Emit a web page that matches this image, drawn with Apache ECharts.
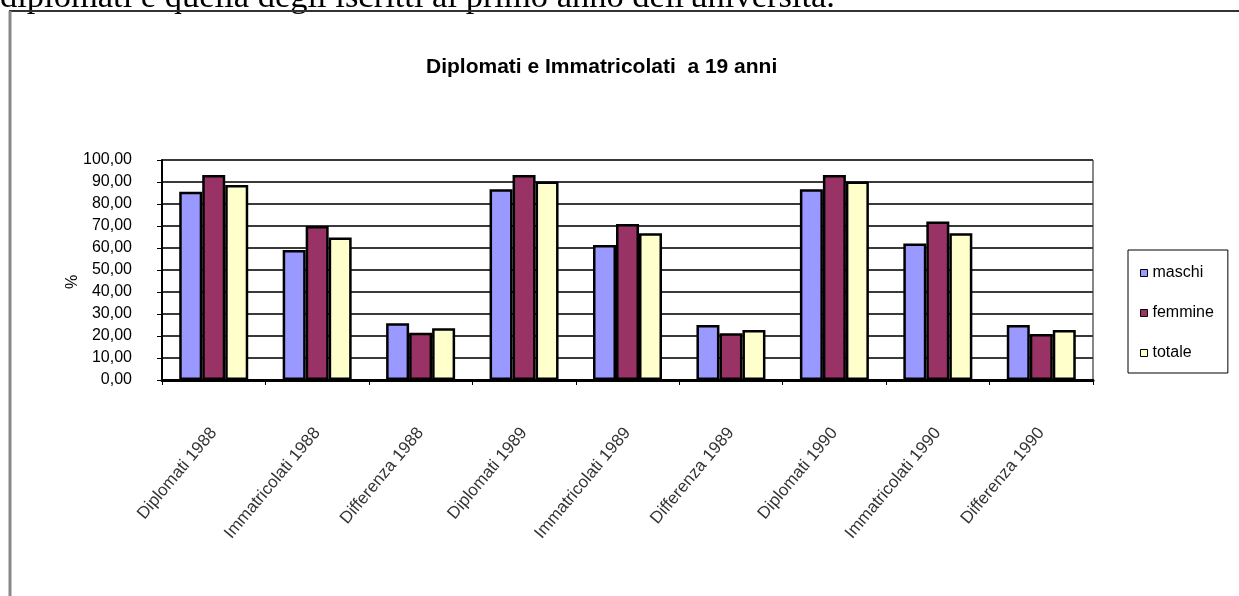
<!DOCTYPE html>
<html>
<head>
<meta charset="utf-8">
<script src="https://cdn.jsdelivr.net/npm/echarts@6/dist/echarts.min.js"></script>
<style>
html,body{margin:0;padding:0;background:#fff;}
#c{width:1239px;height:596px;}
</style>
</head>
<body>
<div id="c"></div>
<script>
const categories = ['Diplomati 1988','Immatricolati 1988','Differenza 1988','Diplomati 1989','Immatricolati 1989','Differenza 1989','Diplomati 1990','Immatricolati 1990','Differenza 1990'];
const maschi  = [85.6, 59.1, 25.8, 86.7, 61.4, 25.0, 86.7, 62.1, 25.0];
const femmine = [93.2, 70.0, 21.5, 93.2, 70.9, 21.2, 93.2, 72.0, 20.9];
const totale  = [88.6, 64.8, 23.5, 90.2, 66.7, 22.7, 90.2, 66.7, 22.7];
const yTickLabels = ['0,00','10,00','20,00','30,00','40,00','50,00','60,00','70,00','80,00','90,00','100,00'];
const seriesNames = ['maschi','femmine','totale'];
const titleText = 'Diplomati e Immatricolati  a 19 anni';
const yAxisName = '%';
const pageText = "diplomati e quella degli iscritti al primo anno dell'università.";

const colors = ['#9999FF','#993366','#FFFFCC'];
const chart = echarts.init(document.getElementById('c'));
const sans = 'Liberation Sans, Arial, sans-serif';
const mk = (name, data, i) => ({
  name, type:'bar', data,
  barWidth: 23, barGap: '0%',
  itemStyle:{color: colors[i], borderColor:'#000', borderWidth:2.5},
  emphasis:{disabled:true}, animation:false
});
chart.setOption({
  animation:false,
  backgroundColor:'#fff',
  title:{text:titleText, left:421, top:52, textStyle:{fontFamily:sans, fontSize:21, fontWeight:'bold', color:'#000'}},
  graphic:[
    {type:'text', left:0, top:-20, style:{text:pageText, font:'34.5px "Liberation Serif", "Times New Roman", serif', fill:'#000'}},
    {type:'text', x:73, y:282, rotation:Math.PI/2, style:{text:yAxisName, font:'16px "Liberation Sans", Arial, sans-serif', fill:'#000', align:'center', verticalAlign:'middle'}},
    {type:'line', shape:{x1:9, y1:11, x2:1239, y2:11}, style:{stroke:'#333', lineWidth:2}},
    {type:'line', shape:{x1:10, y1:11, x2:10, y2:596}, style:{stroke:'#888', lineWidth:3}},
    {type:'line', shape:{x1:1093, y1:160, x2:1093, y2:380}, style:{stroke:'#888', lineWidth:2}}
  ],
  legend:{
    data:seriesNames, orient:'vertical', left:1128, top:250,
    itemWidth:7, itemHeight:7, itemGap:24, icon:'rect',
    padding:[15,14,12,12],
    borderColor:'#000', borderWidth:1,
    itemStyle:{borderWidth:1, borderColor:'#000'},
    textStyle:{fontFamily:sans, fontSize:16, color:'#000'}
  },
  grid:{left:162, right:146, top:160, bottom:216, containLabel:false},
  xAxis:{
    type:'category', data:categories,
    axisLine:{lineStyle:{color:'#000', width:3}},
    axisTick:{show:true, length:5, lineStyle:{color:'#000', width:1}},
    axisLabel:{rotate:50, margin:50, fontFamily:sans, fontSize:17, color:'#333', interval:0}
  },
  yAxis:{
    type:'value', min:0, max:100, interval:10,
    axisLine:{show:true, lineStyle:{color:'#000', width:2}},
    axisTick:{show:true, length:5, lineStyle:{color:'#000'}},
    axisLabel:{margin:30, fontFamily:sans, fontSize:16, color:'#000', formatter:(v)=>yTickLabels[Math.round(v/10)]},
    splitLine:{lineStyle:{color:'#3a3a3a', width:2}}
  },
  series:[mk(seriesNames[0], maschi,0), mk(seriesNames[1], femmine,1), mk(seriesNames[2], totale,2)]
});
</script>
</body>
</html>
